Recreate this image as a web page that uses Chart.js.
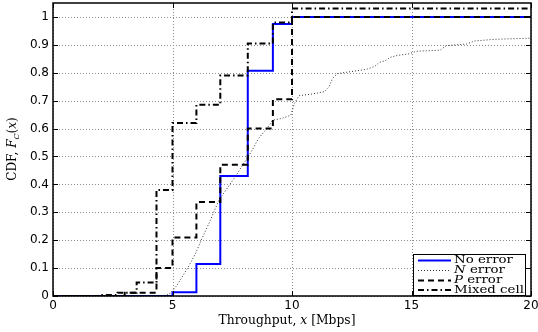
<!DOCTYPE html>
<html><head><meta charset="utf-8">
<script src="https://cdn.jsdelivr.net/npm/chart.js"></script>
<style>html,body{margin:0;padding:0;background:#fff;}#wrap{width:538px;height:332px;}</style>
</head><body><div id="wrap"><canvas id="c" width="538" height="332"></canvas></div>
<script>
// ---- data ----
const xTicks = [0, 5, 10, 15, 20];
const xTickLabels = ['0', '5', '10', '15', '20'];
const yTicks = [0, 0.1, 0.2, 0.3, 0.4, 0.5, 0.6, 0.7, 0.8, 0.9, 1];
const yTickLabels = ['0', '0.1', '0.2', '0.3', '0.4', '0.5', '0.6', '0.7', '0.8', '0.9', '1'];
const seriesNames = ['No error', 'N error', 'P error', 'Mixed cell'];

const noErrorX = [0, 5, 6, 7, 8.15, 9.2, 10, 20];
const noErrorY = [0, 0.013, 0.115, 0.43, 0.807, 0.975, 1, 1];

const nErrorX = [0, 4.5, 4.75, 4.95, 5.2, 5.45, 5.7, 5.95, 6.2, 6.5, 6.75, 6.95, 7.2, 7.4, 7.65, 7.9, 8.1, 8.35, 8.6, 8.95, 9.2, 9.6, 9.95, 10.1, 10.3, 10.85, 11.35, 11.55, 11.7, 11.9, 12.3, 12.7, 13.1, 13.45, 13.65, 13.9, 14.1, 14.4, 14.9, 15.2, 16.2, 16.45, 17.3, 17.65, 18.5, 20];
const nErrorY = [0, 0, 0.003, 0.012, 0.04, 0.075, 0.11, 0.15, 0.2, 0.255, 0.305, 0.345, 0.375, 0.4, 0.43, 0.465, 0.49, 0.525, 0.565, 0.6, 0.63, 0.637, 0.648, 0.69, 0.718, 0.724, 0.732, 0.75, 0.78, 0.797, 0.802, 0.807, 0.812, 0.822, 0.837, 0.843, 0.855, 0.862, 0.868, 0.877, 0.881, 0.897, 0.903, 0.914, 0.92, 0.924];

const pErrorX = [0, 3.0, 4.33, 5, 6, 7, 8.15, 9.2, 10, 20];
const pErrorY = [0, 0.012, 0.1, 0.21, 0.337, 0.47, 0.6, 0.705, 1, 1];

const mixedX = [0, 2.0, 2.7, 3.5, 4.33, 5, 6, 7, 8.15, 9.2, 10, 20];
const mixedY = [0, 0.004, 0.012, 0.048, 0.38, 0.62, 0.685, 0.79, 0.905, 0.98, 1.03, 1.03];

const toXY = (xs, ys) => xs.map((x, i) => ({x: x, y: ys[i]}));

// ---- styles ----
const SERIF = '"DejaVu Serif"';
const styles = [
  {color: '#0000ff', width: 2, dash: []},
  {color: '#333333', width: 1, dash: [1, 2]},
  {color: '#000', width: 2, dash: [6, 4]},
  {color: '#000', width: 2, dash: [6, 3, 1.5, 3]}
];

function richWidth(ctx, parts, size) {
  let w = 0;
  for (const p of parts) {
    ctx.font = (p.it ? 'italic ' : '') + (p.size || size) + 'px ' + SERIF;
    w += ctx.measureText(p.t).width;
  }
  return w;
}
function drawRich(ctx, parts, x, y, size, sx, align) {
  const w = richWidth(ctx, parts, size);
  ctx.save();
  ctx.translate(x, y);
  ctx.scale(sx, 1);
  let cx = align === 'center' ? -w / 2 : 0;
  ctx.textAlign = 'left';
  for (const p of parts) {
    ctx.font = (p.it ? 'italic ' : '') + (p.size || size) + 'px ' + SERIF;
    ctx.fillText(p.t, cx, p.dy || 0);
    cx += ctx.measureText(p.t).width;
  }
  ctx.restore();
}

const gridPlugin = {
  id: 'mgrid',
  beforeDatasetsDraw(chart) {
    const {ctx, chartArea: a, scales: {x, y}} = chart;
    ctx.save();
    ctx.strokeStyle = '#8c8c8c';
    ctx.lineWidth = 1;
    ctx.setLineDash([1, 2]);
    xTicks.forEach(v => {
      const px = Math.round(x.getPixelForValue(v)) + 0.5;
      ctx.beginPath(); ctx.moveTo(px, a.top); ctx.lineTo(px, a.bottom); ctx.stroke();
    });
    yTicks.forEach(v => {
      const py = Math.round(y.getPixelForValue(v)) + 0.5;
      ctx.beginPath(); ctx.moveTo(a.left, py); ctx.lineTo(a.right, py); ctx.stroke();
    });
    ctx.restore();
  },
  afterDatasetsDraw(chart) {
    const {ctx, chartArea: a, scales: {x, y}} = chart;
    ctx.save();
    ctx.setLineDash([]);
    ctx.strokeStyle = '#000';
    ctx.lineWidth = 1.5;
    ctx.strokeRect(a.left, a.top, a.right - a.left, a.bottom - a.top);
    ctx.lineWidth = 1;
    const tl = 5;
    xTicks.forEach(v => {
      const px = Math.round(x.getPixelForValue(v)) + 0.5;
      ctx.beginPath(); ctx.moveTo(px, a.bottom); ctx.lineTo(px, a.bottom - tl);
      ctx.moveTo(px, a.top); ctx.lineTo(px, a.top + tl); ctx.stroke();
    });
    yTicks.forEach(v => {
      const py = Math.round(y.getPixelForValue(v)) + 0.5;
      ctx.beginPath(); ctx.moveTo(a.left, py); ctx.lineTo(a.left + tl, py);
      ctx.moveTo(a.right, py); ctx.lineTo(a.right - tl, py); ctx.stroke();
    });

    // legend
    const L = 413, R = 526, T = 254, B = 296;
    ctx.fillStyle = '#fff';
    ctx.fillRect(L, T, R - L, B - T);
    ctx.strokeStyle = '#000';
    ctx.lineWidth = 1;
    ctx.strokeRect(L + 0.5, T + 0.5, R - L - 1, B - T - 1);
    const rows = [260.5, 270.5, 280.5, 290];
    const labels = [
      [{t: 'No error'}],
      [{t: 'N', it: true}, {t: ' error'}],
      [{t: 'P', it: true}, {t: ' error'}],
      [{t: 'Mixed cell'}]
    ];
    const lsize = 11;
    const sx = 70 / richWidth(ctx, labels[3], lsize);
    ctx.fillStyle = '#000';
    ctx.textBaseline = 'middle';
    rows.forEach((ry, i) => {
      const s = styles[i];
      ctx.save();
      ctx.strokeStyle = s.color; ctx.lineWidth = s.width; ctx.setLineDash(s.dash);
      ctx.beginPath(); ctx.moveTo(418, ry); ctx.lineTo(451, ry); ctx.stroke();
      ctx.restore();
      drawRich(ctx, labels[i], 454, ry, lsize, sx, 'left');
    });
    ctx.restore();
  },
  afterDraw(chart) {
    const {ctx} = chart;
    ctx.save();
    ctx.fillStyle = '#000';
    ctx.textBaseline = 'alphabetic';
    const xt = [{t: 'Throughput, '}, {t: 'x', it: true}, {t: ' [Mbps]'}];
    const w = richWidth(ctx, xt, 12);
    drawRich(ctx, xt, 287, 324, 12, 137 / w, 'center');
    ctx.translate(16, 149);
    ctx.rotate(-Math.PI / 2);
    ctx.textBaseline = 'alphabetic';
    const yt = [{t: 'CDF, '}, {t: 'F', it: true}, {t: 'C', it: true, size: 8, dy: 2.5}, {t: '('}, {t: 'x', it: true}, {t: ')'}];
    drawRich(ctx, yt, 0, 0, 12, 1, 'center');
    ctx.restore();
  }
};

const datasets = [
  {label: seriesNames[0], data: toXY(noErrorX, noErrorY), stepped: true, order: 4},
  {label: seriesNames[1], data: toXY(nErrorX, nErrorY), stepped: false, order: 3},
  {label: seriesNames[2], data: toXY(pErrorX, pErrorY), stepped: true, order: 2},
  {label: seriesNames[3], data: toXY(mixedX, mixedY), stepped: true, order: 1}
].map((d, i) => Object.assign(d, {
  borderColor: styles[i].color, borderWidth: styles[i].width, borderDash: styles[i].dash,
  pointRadius: 0, fill: false, tension: 0, borderCapStyle: 'butt', borderJoinStyle: 'miter'
}));

new Chart(document.getElementById('c'), {
  type: 'line',
  data: {datasets: datasets},
  options: {
    responsive: false, animation: false, devicePixelRatio: 1,
    layout: {padding: {top: 3, right: 7, left: 0, bottom: 0}},
    plugins: {legend: {display: false}, tooltip: {enabled: false}},
    scales: {
      x: {
        type: 'linear', min: 0, max: 20,
        grid: {display: false, drawTicks: false}, border: {display: false},
        afterBuildTicks: s => { s.ticks = xTicks.map(v => ({value: v})); },
        afterFit: s => { s.height = 36; s.paddingLeft = 0; s.paddingRight = 0; },
        ticks: {callback: (v, i) => xTickLabels[i], font: {family: '"DejaVu Sans"', size: 12}, color: '#000', padding: 3, maxRotation: 0, autoSkip: false}
      },
      y: {
        type: 'linear', min: 0, max: 1.05,
        grid: {display: false, drawTicks: false}, border: {display: false},
        afterBuildTicks: s => { s.ticks = yTicks.map(v => ({value: v})); },
        afterFit: s => { s.width = 53; s.paddingTop = 0; s.paddingBottom = 0; },
        ticks: {callback: (v, i) => yTickLabels[i], font: {family: '"DejaVu Sans"', size: 12}, color: '#000', padding: 4, autoSkip: false}
      }
    }
  },
  plugins: [gridPlugin]
});
</script>
</body></html>
